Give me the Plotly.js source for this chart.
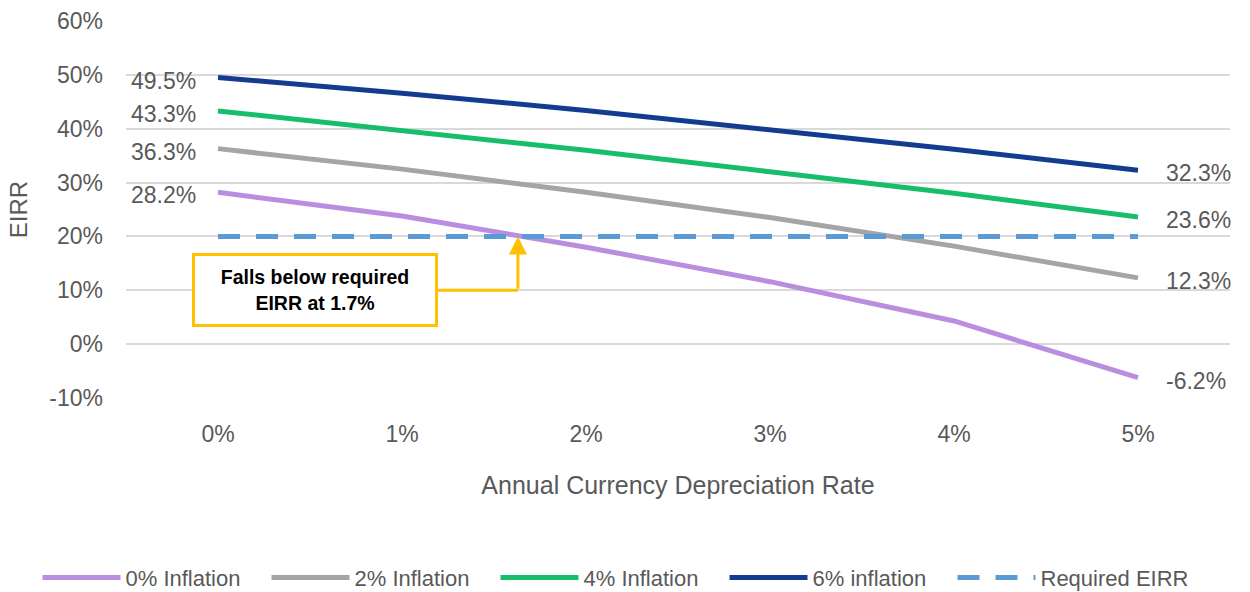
<!DOCTYPE html>
<html>
<head>
<meta charset="utf-8">
<script src="https://cdn.plot.ly/plotly-3.0.1.min.js"></script>
<style>html,body{margin:0;padding:0;background:#fff;}#chart{width:1250px;height:592px;}</style>
</head>
<body>
<div id="chart"></div>
<script>
const categories = ["0%", "1%", "2%", "3%", "4%", "5%"];
const xIndex = [0, 1, 2, 3, 4, 5];
const inflation0 = [28.2, 23.8, 18.0, 11.6, 4.3, -6.2];
const inflation2 = [36.3, 32.5, 28.2, 23.5, 18.2, 12.3];
const inflation4 = [43.3, 39.7, 36.0, 32.0, 28.0, 23.6];
const inflation6 = [49.5, 46.6, 43.4, 39.9, 36.2, 32.3];
const required = [20, 20, 20, 20, 20, 20];
const seriesNames = ["0% Inflation", "2% Inflation", "4% Inflation", "6% inflation", "Required EIRR"];
const yTickVals = [-10, 0, 10, 20, 30, 40, 50, 60];
const yTickText = ["-10%", "0%", "10%", "20%", "30%", "40%", "50%", "60%"];
const crossX = 1.63;
const crossY = 20;

const FONT = "Liberation Sans, Arial, sans-serif";
const GREY = "#595959";

function tr(y, name, color, dash, legendId) {
  return {x: xIndex, y: y, name: name, type: "scatter", mode: "lines",
    legend: legendId || "legend",
    line: {color: color, width: 5, dash: dash || "solid"}};
}
const data = [
  tr(inflation0, seriesNames[0], "#B98EDF"),
  tr(inflation2, seriesNames[1], "#A5A5A5"),
  tr(inflation4, seriesNames[2], "#16BE6A"),
  tr(inflation6, seriesNames[3], "#133B8F"),
  tr(required, seriesNames[4], "#5B9BD5", "22px,16px", "legend2")
];

const all = [inflation0, inflation2, inflation4, inflation6];
const annotations = [];
all.forEach(function (s) {
  annotations.push({x: 0, y: s[0], xref: "x", yref: "y", text: s[0].toFixed(1) + "%",
    showarrow: false, xanchor: "right", yanchor: "middle", xshift: -20, yshift: -3,
    font: {family: FONT, size: 23, color: GREY}});
  annotations.push({x: 5, y: s[5], xref: "x", yref: "y", text: s[5].toFixed(1) + "%",
    showarrow: false, xanchor: "left", yanchor: "middle", xshift: 26, yshift: -3,
    font: {family: FONT, size: 23, color: GREY}});
});
annotations.push({x: 0.527, y: 10, xref: "x", yref: "y",
  text: "<b>Falls below required<br>EIRR at 1.7%</b>", showarrow: false,
  xanchor: "center", yanchor: "middle", width: 236, height: 64, borderpad: 2,
  bgcolor: "#ffffff", bordercolor: "#FFC000", borderwidth: 3,
  font: {family: FONT, size: 19.5, color: "#000000"}});
annotations.push({x: crossX, y: crossY, ax: crossX, ay: 10, xref: "x", yref: "y",
  axref: "x", ayref: "y", text: "", showarrow: true, arrowhead: 2, arrowsize: 1.2,
  arrowwidth: 3, arrowcolor: "#FFC000", standoff: 0});

const legendFont = {family: FONT, size: 22, color: GREY};
const layout = {
  width: 1250, height: 592,
  margin: {l: 126, r: 20, t: 21, b: 194, autoexpand: false},
  paper_bgcolor: "#ffffff", plot_bgcolor: "#ffffff",
  font: {family: FONT, size: 23, color: GREY},
  showlegend: true,
  legend: {orientation: "h", x: 0.03, xanchor: "left", xref: "container", yref: "container",
    y: 0.024, yanchor: "middle", entrywidth: 136, entrywidthmode: "pixels",
    font: legendFont, itemwidth: 78, tracegroupgap: 0},
  legend2: {orientation: "h", x: 0.762, xanchor: "left", xref: "container", yref: "container",
    y: 0.024, yanchor: "middle", font: legendFont, itemwidth: 78, tracegroupgap: 0},
  xaxis: {range: [-0.5, 5.5], tickvals: xIndex, ticktext: categories, showgrid: false,
    zeroline: false, showline: false, ticks: "", ticklen: 0, ticklabelstandoff: 20,
    tickfont: {family: FONT, size: 23, color: GREY},
    title: {text: "Annual Currency Depreciation Rate", standoff: 30,
      font: {family: FONT, size: 25, color: GREY}}},
  yaxis: {range: [-10, 60], tickvals: yTickVals, ticktext: yTickText, showgrid: true,
    gridcolor: "#D9D9D9", gridwidth: 2, zeroline: false, showline: false, ticks: "",
    ticklabelstandoff: 22,
    tickfont: {family: FONT, size: 23, color: GREY},
    title: {text: "EIRR", standoff: 14, font: {family: FONT, size: 24, color: GREY}}},
  shapes: [{type: "line", xref: "x", yref: "y", x0: 1.196, y0: 10, x1: crossX, y1: 10,
    line: {color: "#FFC000", width: 3}}],
  annotations: annotations
};
Plotly.newPlot("chart", data, layout, {displayModeBar: false, staticPlot: true});
</script>
</body>
</html>
